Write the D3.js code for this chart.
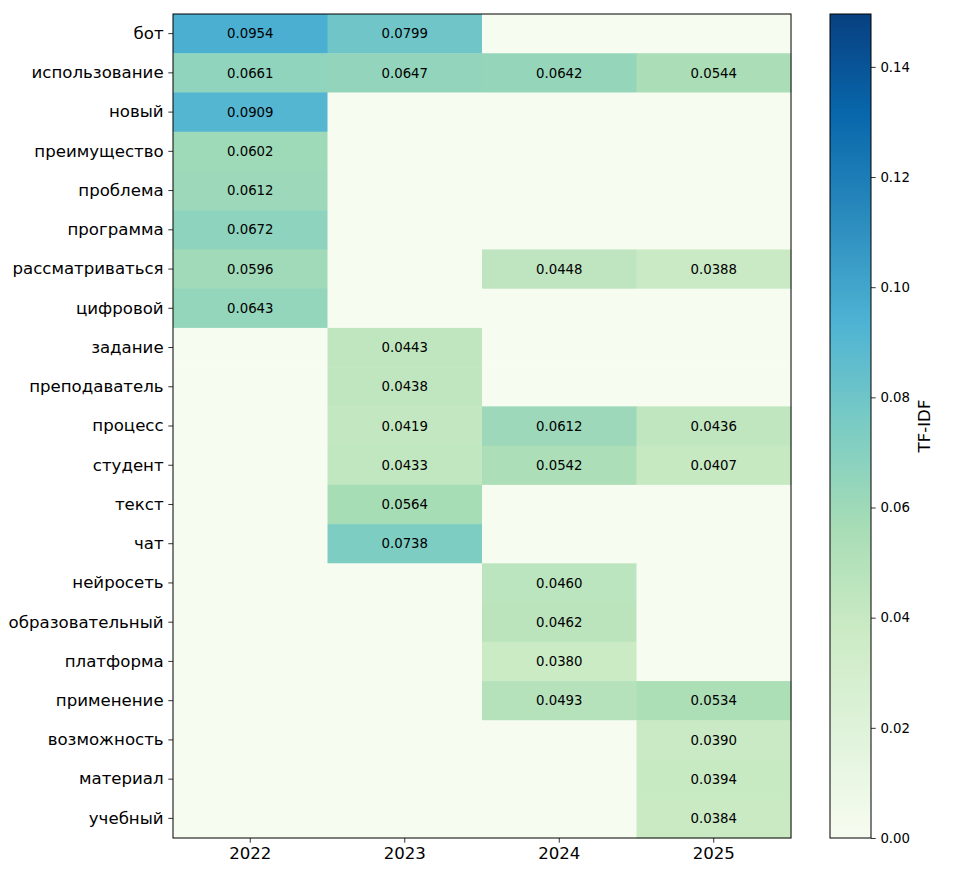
<!DOCTYPE html>
<html>
<head>
<meta charset="utf-8">
<script src="https://cdn.jsdelivr.net/npm/d3@7"></script>
<style>
  body { margin: 0; background: #fff; }
  text { font-family: "DejaVu Sans", sans-serif; }
</style>
</head>
<body>
<div id="chart"></div>
<script>
// data
var words = ["бот", "использование", "новый", "преимущество", "проблема", "программа",
    "рассматриваться", "цифровой", "задание", "преподаватель", "процесс", "студент",
    "текст", "чат", "нейросеть", "образовательный", "платформа", "применение",
    "возможность", "материал", "учебный"];
var years = ["2022", "2023", "2024", "2025"];
var values2022 = [0.0954, 0.0661, 0.0909, 0.0602, 0.0612, 0.0672, 0.0596, 0.0643, 0, 0, 0, 0, 0, 0, 0, 0, 0, 0, 0, 0, 0];
var values2023 = [0.0799, 0.0647, 0, 0, 0, 0, 0, 0, 0.0443, 0.0438, 0.0419, 0.0433, 0.0564, 0.0738, 0, 0, 0, 0, 0, 0, 0];
var values2024 = [0, 0.0642, 0, 0, 0, 0, 0.0448, 0, 0, 0, 0.0612, 0.0542, 0, 0, 0.0460, 0.0462, 0.0380, 0.0493, 0, 0, 0];
var values2025 = [0, 0.0544, 0, 0, 0, 0, 0.0388, 0, 0, 0, 0.0436, 0.0407, 0, 0, 0, 0, 0, 0.0534, 0.0390, 0.0394, 0.0384];
var colorTicks = [0, 0.02, 0.04, 0.06, 0.08, 0.10, 0.12, 0.14];
var vmax = 0.1496;

var series = [values2022, values2023, values2024, values2025];

var cells = [];
words.forEach(function (w, i) {
    years.forEach(function (y, j) {
        cells.push({word: w, year: y, value: series[j][i]});
    });
});

var W = 960, H = 876;
var margin = {top: 14, left: 173, right: 169, bottom: 38};
var width = W - margin.left - margin.right,
    height = H - margin.top - margin.bottom;

var svg = d3.select("#chart").append("svg")
    .attr("width", W).attr("height", H);

var g = svg.append("g")
    .attr("transform", "translate(" + margin.left + "," + margin.top + ")");

var x = d3.scaleBand().domain(years).range([0, width]);
var y = d3.scaleBand().domain(words).range([0, height]);

// matplotlib GnBu
var gnbu = ["#f7fcf0", "#e0f3db", "#ccebc5", "#a8ddb5", "#7bccc4", "#4eb3d3", "#2b8cbe", "#0868ac", "#084081"];
var color = d3.scaleLinear()
    .domain(gnbu.map(function (c, i) { return i / 8 * vmax; }))
    .range(gnbu)
    .interpolate(d3.interpolateRgb)
    .clamp(true);

g.selectAll("rect.cell")
    .data(cells)
    .enter()
    .append("rect")
    .attr("class", "cell")
    .attr("x", function (d) { return x(d.year); })
    .attr("y", function (d) { return y(d.word); })
    .attr("width", x.bandwidth() + 0.5)
    .attr("height", y.bandwidth() + 0.5)
    .attr("fill", function (d) { return color(d.value); });

g.selectAll("text.val")
    .data(cells.filter(function (d) { return d.value > 0; }))
    .enter()
    .append("text")
    .attr("class", "val")
    .attr("x", function (d) { return x(d.year) + x.bandwidth() / 2; })
    .attr("y", function (d) { return y(d.word) + y.bandwidth() / 2; })
    .attr("dy", "0.35em")
    .attr("text-anchor", "middle")
    .attr("font-size", "13.3px")
    .attr("fill", "#000")
    .text(function (d) { return d.value.toFixed(4); });

// axes
var xAxis = g.append("g")
    .attr("transform", "translate(0," + height + ")")
    .call(d3.axisBottom(x).tickSize(4.7).tickPadding(4.7));
var yAxis = g.append("g")
    .call(d3.axisLeft(y).tickSize(4.7).tickPadding(4.7));
[xAxis, yAxis].forEach(function (a) {
    a.select(".domain").remove();
    a.selectAll("text").attr("font-size", "16.6px").attr("fill", "#000")
        .style("font-family", "DejaVu Sans");
    a.selectAll("line").attr("stroke", "#000").attr("stroke-width", 0.8);
});

g.append("rect")
    .attr("width", width).attr("height", height)
    .attr("fill", "none").attr("stroke", "#000").attr("stroke-width", 1);

// colorbar
var cbX = 830, cbW = 41;
var cy = d3.scaleLinear().domain([0, vmax]).range([margin.top + height, margin.top]);

var grad = svg.append("defs").append("linearGradient")
    .attr("id", "cbgrad")
    .attr("x1", 0).attr("y1", 1).attr("x2", 0).attr("y2", 0);
gnbu.forEach(function (c, i) {
    grad.append("stop").attr("offset", i / 8).attr("stop-color", c);
});

svg.append("rect")
    .attr("x", cbX).attr("y", cy(vmax))
    .attr("width", cbW).attr("height", cy(0) - cy(vmax))
    .attr("fill", "url(#cbgrad)")
    .attr("stroke", "#000").attr("stroke-width", 1);

var cAxis = svg.append("g")
    .attr("transform", "translate(" + (cbX + cbW) + ",0)")
    .call(d3.axisRight(cy).tickValues(colorTicks).tickFormat(d3.format(".2f"))
        .tickSize(4.7).tickPadding(4.7));
cAxis.select(".domain").remove();
cAxis.selectAll("text").attr("font-size", "13.3px").attr("fill", "#000")
    .style("font-family", "DejaVu Sans");
cAxis.selectAll("line").attr("stroke", "#000").attr("stroke-width", 0.8);

svg.append("text")
    .attr("transform", "translate(930," + (margin.top + height / 2) + ") rotate(-90)")
    .attr("text-anchor", "middle")
    .attr("font-size", "16.6px")
    .text("TF-IDF");
</script>
</body>
</html>
